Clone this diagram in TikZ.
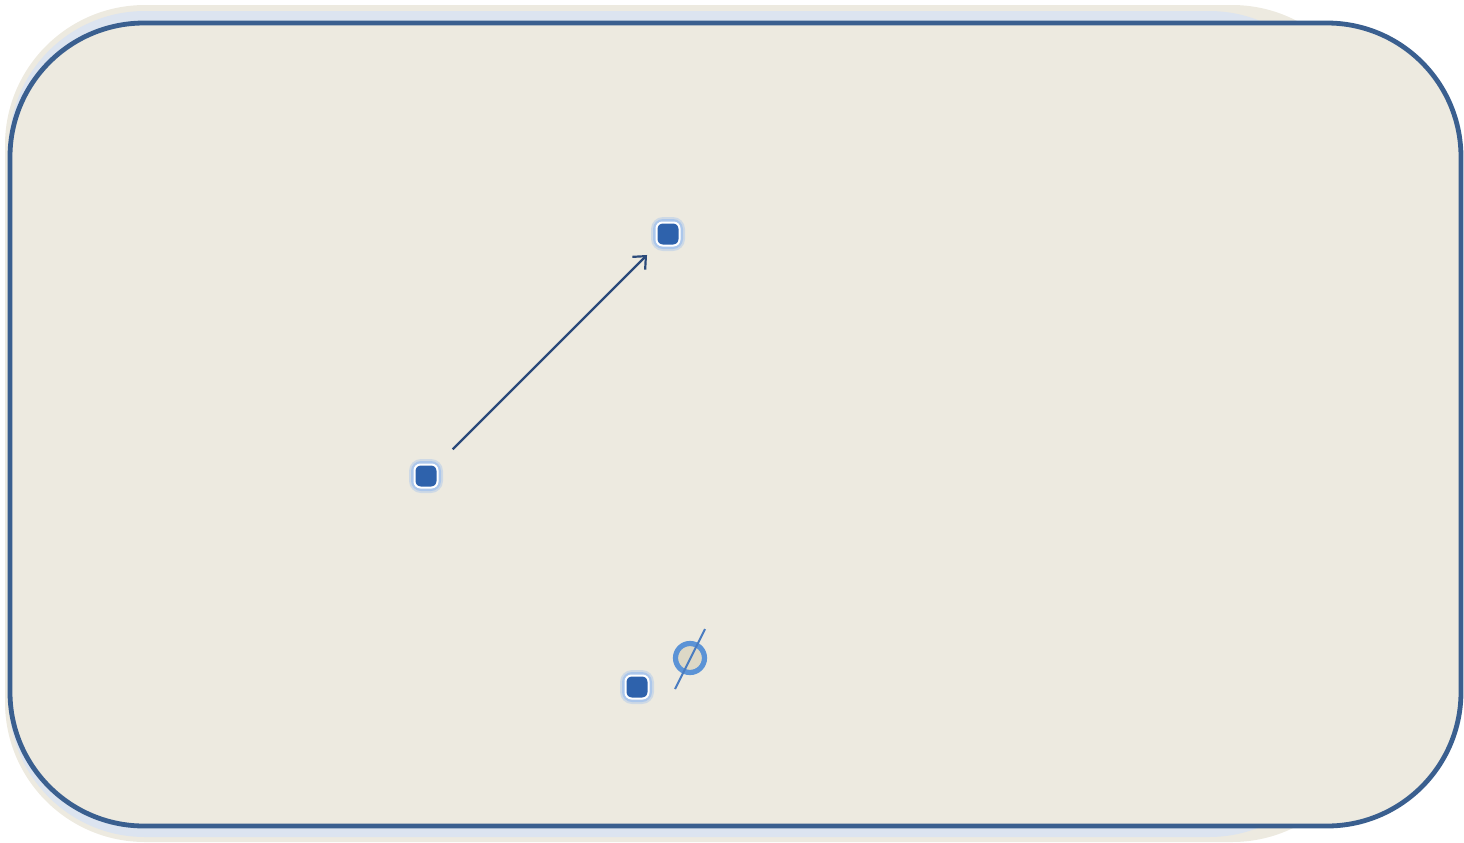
\documentclass[tikz,border=0pt]{standalone}
\usetikzlibrary{arrows.meta}
\definecolor{bgbeige}{HTML}{EDEAE0}
\definecolor{frameblue}{HTML}{3A5F8F}
\definecolor{shadowblue}{HTML}{DCE4F0}
\definecolor{dotblue}{HTML}{2E62AC}
\definecolor{glowblue}{HTML}{A9C6EC}
\definecolor{arrowblue}{HTML}{2B4A7A}
\definecolor{ringblue}{HTML}{5B93D6}
\definecolor{ringfill}{HTML}{DDD8C6}
\definecolor{slashblue}{HTML}{4A7CC0}
\tikzset{
  glowout/.style={draw=none, fill=glowblue, minimum size=17pt, rounded corners=6pt, inner sep=0pt, opacity=0.45},
  glow/.style={draw=none, fill=glowblue, minimum size=15pt, rounded corners=5pt, inner sep=0pt, opacity=0.9},
  dot/.style={draw=white, line width=1pt, fill=dotblue, minimum size=11.5pt, rounded corners=3pt, inner sep=0pt},
  ring/.style={circle, draw=ringblue, line width=2.6pt, fill=ringfill, minimum size=14.5pt, inner sep=0pt},
  conn/.style={draw=arrowblue, line width=1.1pt, -{Straight Barb[length=5pt,width=9pt]}},
  slash/.style={draw=slashblue, line width=1pt}
}
\begin{document}
\begin{tikzpicture}[x=0.5pt,y=-0.5pt]
\useasboundingbox (0,0) rectangle (1464,842);
% back shapes
\fill[bgbeige] [rounded corners=70pt] (5,5) rectangle (1372,842);
\fill[shadowblue] [rounded corners=68pt] (9,11) rectangle (1345,837);
% main frame
\draw[frameblue, line width=2.4pt, fill=bgbeige, rounded corners=67pt] (10,23) rectangle (1461,826);
% glows
\node[glowout] at (426,476) {};
\node[glowout] at (668,234) {};
\node[glowout] at (637,687) {};
\node[glow] at (426,476) {};
\node[glow] at (668,234) {};
\node[glow] at (637,687) {};
% dots
\node[dot] (a) at (426,476) {};
\node[dot] (b) at (668,234) {};
\node[dot] (c) at (637,687) {};
% arrow
\draw[conn, shorten <=10pt, shorten >=6pt] (a) -- (b);
% empty set
\node[ring] (e) at (690,658) {};
\coordinate (s1) at (705,629);
\coordinate (s2) at (675,689);
\draw[slash] (s1) -- (s2);
\end{tikzpicture}
\end{document}
